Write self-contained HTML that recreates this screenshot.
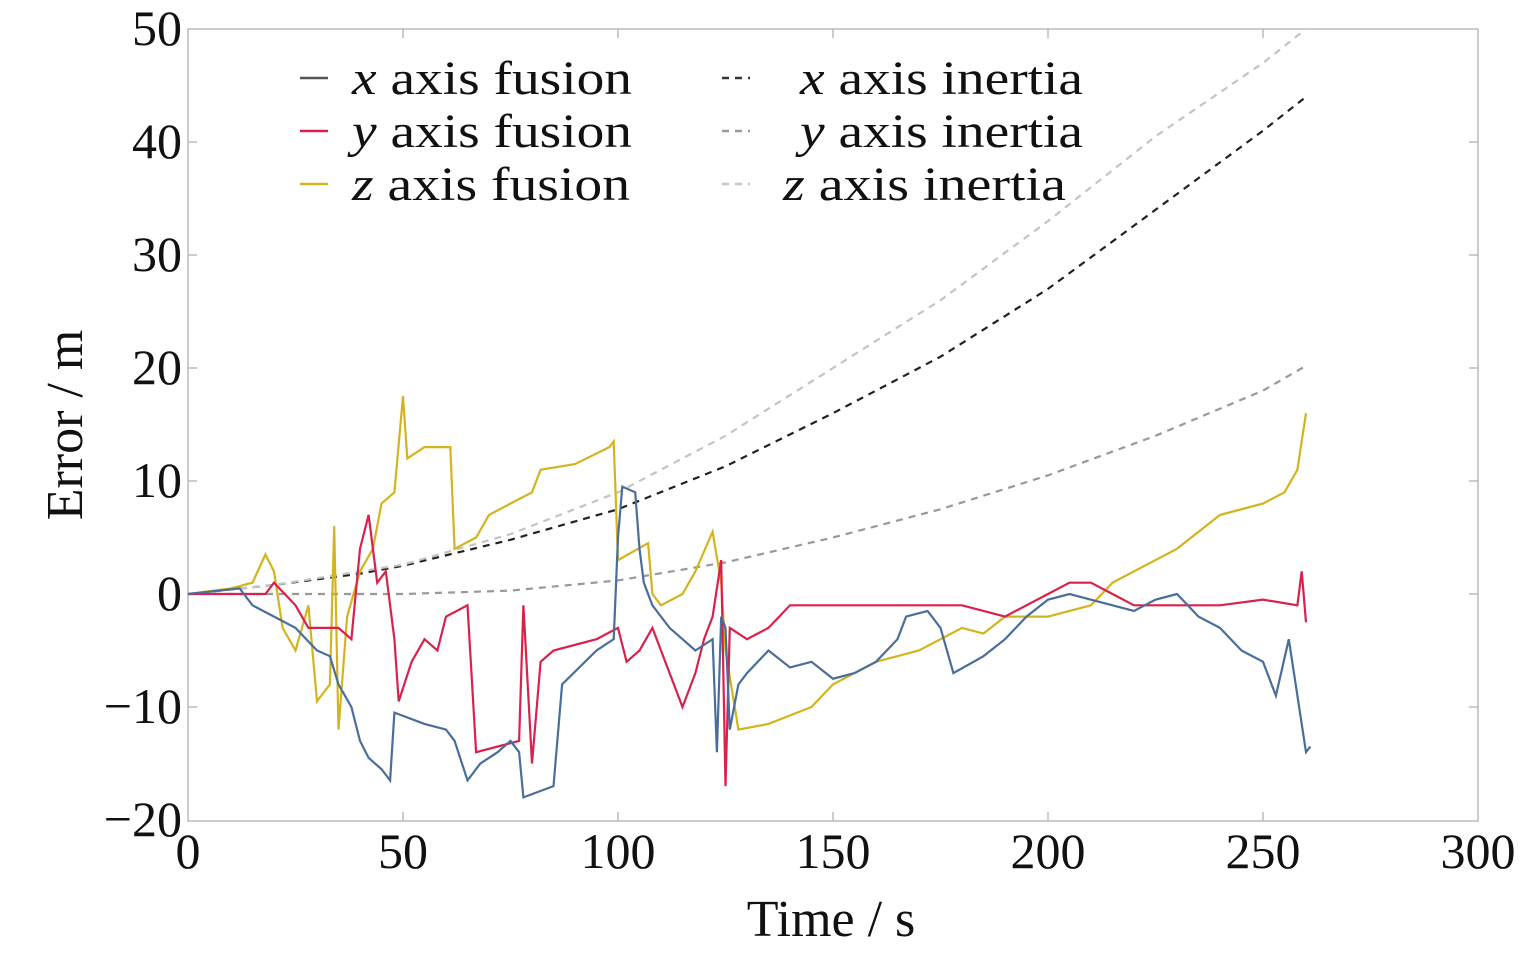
<!DOCTYPE html>
<html><head><meta charset="utf-8"><style>
html,body{margin:0;padding:0;background:#fff;}
svg{display:block;font-family:"Liberation Serif",serif;}
</style></head><body>
<svg width="1535" height="972" viewBox="0 0 1535 972" xmlns="http://www.w3.org/2000/svg">
<rect x="188" y="29" width="1290" height="792" fill="none" stroke="#bbb" stroke-width="1.5"/>
<!-- ticks -->
<g stroke="#bbb" stroke-width="1.5">
<line x1="403" y1="821" x2="403" y2="812"/><line x1="618" y1="821" x2="618" y2="812"/><line x1="833" y1="821" x2="833" y2="812"/><line x1="1048" y1="821" x2="1048" y2="812"/><line x1="1263" y1="821" x2="1263" y2="812"/>
<line x1="403" y1="29" x2="403" y2="38"/><line x1="618" y1="29" x2="618" y2="38"/><line x1="833" y1="29" x2="833" y2="38"/><line x1="1048" y1="29" x2="1048" y2="38"/><line x1="1263" y1="29" x2="1263" y2="38"/>
<line x1="188" y1="142" x2="197" y2="142"/><line x1="188" y1="255" x2="197" y2="255"/><line x1="188" y1="368" x2="197" y2="368"/><line x1="188" y1="481" x2="197" y2="481"/><line x1="188" y1="594" x2="197" y2="594"/><line x1="188" y1="707" x2="197" y2="707"/>
<line x1="1478" y1="142" x2="1469" y2="142"/><line x1="1478" y1="255" x2="1469" y2="255"/><line x1="1478" y1="368" x2="1469" y2="368"/><line x1="1478" y1="481" x2="1469" y2="481"/><line x1="1478" y1="594" x2="1469" y2="594"/><line x1="1478" y1="707" x2="1469" y2="707"/>
</g>
<g font-size="50" fill="#111" text-anchor="end">
<text x="182" y="45">50</text><text x="182" y="158">40</text><text x="182" y="271">30</text><text x="182" y="384">20</text><text x="182" y="497">10</text><text x="182" y="610">0</text><text x="182" y="723">−10</text><text x="182" y="836">−20</text>
</g>
<g font-size="50" fill="#111" text-anchor="middle">
<text x="188" y="868">0</text><text x="403" y="868">50</text><text x="618" y="868">100</text><text x="833" y="868">150</text><text x="1048" y="868">200</text><text x="1263" y="868">250</text><text x="1478" y="868">300</text>
</g>
<text x="831" y="936" font-size="52" text-anchor="middle" fill="#111">Time / s</text>
<text transform="translate(82,425) rotate(-90)" font-size="52" text-anchor="middle" fill="#111">Error / m</text>
<g transform="translate(188,594) scale(4.3,-11.3)" fill="none" stroke-width="2.2">
<polyline vector-effect="non-scaling-stroke" stroke="#222" stroke-dasharray="7,6" points="0,0 20,0.8 40,1.8 50,2.5 75,4.8 100,7.5 125,11.3 150,16 175,21 200,27 225,34 250,41 260,44"/>
<polyline vector-effect="non-scaling-stroke" stroke="#999" stroke-dasharray="7,6" points="0,0 40,0 50,0 75,0.3 100,1.2 125,2.8 150,5 175,7.5 200,10.5 225,14 250,18 260,20.2"/>
<polyline vector-effect="non-scaling-stroke" stroke="#c4c4c4" stroke-dasharray="7,6" points="0,0 20,0.8 40,2 50,2.6 75,5.3 100,9 125,14 150,20 175,26 200,33 225,40.5 250,47 260,50"/>
<polyline vector-effect="non-scaling-stroke" stroke="#d4b41e" points="0,0 10,0.5 15,1 18,3.5 20,2 22,-3 25,-5 28,-1 30,-9.5 33,-8 34,6 35,-12 37,-2 40,2 43,4 45,8 48,9 50,17.5 51,12 55,13 61,13 62,4 67,5 70,7 80,9 82,11 90,11.5 98,13 99,13.5 100,3 107,4.5 108,0 110,-1 115,0 118,2 122,5.5 124,1 125,-5 128,-12 135,-11.5 145,-10 150,-8 160,-6 170,-5 180,-3 185,-3.5 190,-2 200,-2 210,-1 215,1 220,2 230,4 240,7 245,7.5 250,8 255,9 258,11 260,16"/>
<polyline vector-effect="non-scaling-stroke" stroke="#d8224c" points="0,0 18,0 20,1 25,-1 28,-3 35,-3 38,-4 40,4 42,7 44,1 46,2 48,-4 49,-9.5 52,-6 55,-4 58,-5 60,-2 65,-1 67,-14 77,-13 78,-1 80,-15 82,-6 85,-5 95,-4 100,-3 102,-6 105,-5 108,-3 112,-7 115,-10 118,-7 120,-4 122,-2 124,3 125,-17 126,-3 130,-4 135,-3 140,-1 150,-1 160,-1 170,-1 180,-1 190,-2 200,0 205,1 210,1 215,0 220,-1 230,-1 240,-1 250,-0.5 258,-1 259,2 260,-2.5"/>
<polyline vector-effect="non-scaling-stroke" stroke="#4a6e9a" points="0,0 12,0.5 15,-1 20,-2 25,-3 30,-5 33,-5.5 35,-8 38,-10 40,-13 42,-14.5 45,-15.5 47,-16.5 48,-10.5 55,-11.5 60,-12 62,-13 65,-16.5 68,-15 72,-14 75,-13 77,-14 78,-18 85,-17 87,-8 95,-5 99,-4 100,5 101,9.5 104,9 105,4 106,1 108,-1 112,-3 115,-4 118,-5 122,-4 123,-14 124,-2 125,-3 126,-12 128,-8 130,-7 135,-5 140,-6.5 145,-6 150,-7.5 155,-7 160,-6 165,-4 167,-2 172,-1.5 175,-3 178,-7 185,-5.5 190,-4 195,-2 200,-0.5 205,0 210,-0.5 215,-1 220,-1.5 225,-0.5 230,0 235,-2 240,-3 245,-5 250,-6 253,-9 256,-4 258,-9 260,-14 261,-13.5"/>
</g>
<!-- legend -->
<g stroke-width="2.5">
<line x1="300" y1="78" x2="328" y2="78" stroke="#555"/>
<line x1="300" y1="131" x2="328" y2="131" stroke="#d8224c"/>
<line x1="300" y1="184" x2="328" y2="184" stroke="#d4b41e"/>
<line x1="722" y1="78" x2="750" y2="78" stroke="#333" stroke-dasharray="7,6"/>
<line x1="722" y1="131" x2="750" y2="131" stroke="#999" stroke-dasharray="7,6"/>
<line x1="722" y1="184" x2="750" y2="184" stroke="#c4c4c4" stroke-dasharray="7,6"/>
</g>
<g font-size="48" fill="#111">
<text x="352" y="94" textLength="280" lengthAdjust="spacingAndGlyphs"><tspan font-style="italic">x</tspan> axis fusion</text>
<text x="352" y="147" textLength="280" lengthAdjust="spacingAndGlyphs"><tspan font-style="italic">y</tspan> axis fusion</text>
<text x="352" y="200" textLength="278" lengthAdjust="spacingAndGlyphs"><tspan font-style="italic">z</tspan> axis fusion</text>
<text x="800" y="94" textLength="283" lengthAdjust="spacingAndGlyphs"><tspan font-style="italic">x</tspan> axis inertia</text>
<text x="800" y="147" textLength="283" lengthAdjust="spacingAndGlyphs"><tspan font-style="italic">y</tspan> axis inertia</text>
<text x="783" y="200" textLength="283" lengthAdjust="spacingAndGlyphs"><tspan font-style="italic">z</tspan> axis inertia</text>
</g>
</svg>
</body></html>
